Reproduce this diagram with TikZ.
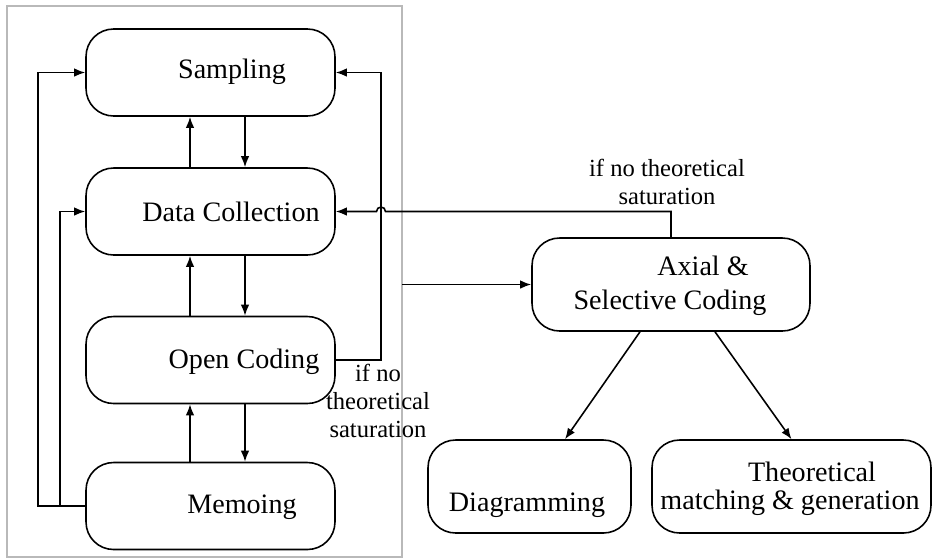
\documentclass[tikz,border=0pt]{standalone}
\usepackage{fontspec}
\setmainfont{Liberation Serif}
\usetikzlibrary{arrows.meta}

\begin{document}
\begin{tikzpicture}[x=0.02cm,y=-0.02cm]
  \tikzset{
    box/.style={draw,fill=white,line width=0.9pt,rounded corners=0.55cm,
      minimum width=4.98cm,minimum height=1.74cm},
    txt/.style={font=\fontsize{16}{19}\selectfont,inner sep=0pt},
    note/.style={font=\fontsize{14}{16}\selectfont,align=center,inner sep=0pt},
    arr/.style={line width=0.9pt,-{Latex[length=0.22cm,width=0.17cm]}}
  }
  \useasboundingbox (0,0) rectangle (932,559);
  \draw[gray!55,line width=0.7pt] (7,6) rectangle (402,557);

  % left column
  \node[box] (samp) at (210.5, 72.5) {};
  \node[box] (coll) at (210.5,211.5) {};
  \node[box] (open) at (210.5,360)   {};
  \node[box] (memo) at (210.5,506)   {};
  \node[txt] (samp-t) at (232, 72) {Sampling};
  \node[txt] (coll-t) at (231,212) {Data Collection};
  \node[txt] (open-t) at (244,362) {Open Coding};
  \node[txt] (memo-t) at (242,507) {Memoing};

  % right part
  \node[box,minimum width=5.56cm,minimum height=1.86cm] (axial) at (671,284.5) {};
  \node[box,minimum width=4.06cm,minimum height=1.86cm] (diag)  at (529.5,486.5) {};
  \node[box,minimum width=5.58cm,minimum height=1.86cm] (theo)  at (791.5,486.5) {};
  \node[txt] (axial-t1) at (703,266) {Axial \&};
  \node[txt] (axial-t2) at (670,303) {Selective Coding};
  \node[txt] (diag-t)   at (527,505) {Diagramming};
  \node[txt] (theo-t1)  at (812,472) {Theoretical};
  \node[txt] (theo-t2)  at (790,503) {matching \& generation};

  \coordinate (up) at (190,0);
  \coordinate (dn) at (245,0);
  \coordinate (lo) at (38,0);
  \coordinate (li) at (60,0);
  \coordinate (ro) at (381,0);
  \coordinate (fe) at (402,0);

  % up and down between the boxes
  \draw[arr] (coll.north -| up) -- (samp.south -| up);
  \draw[arr] (samp.south -| dn) -- (coll.north -| dn);
  \draw[arr] (open.north -| up) -- (coll.south -| up);
  \draw[arr] (coll.south -| dn) -- (open.north -| dn);
  \draw[arr] (memo.north -| up) -- (open.south -| up);
  \draw[arr] (open.south -| dn) -- (memo.north -| dn);

  % loops back
  \draw[arr] (memo.west) -- (memo.west -| lo) -- (samp.west -| lo) -- (samp.west);
  \draw[arr] (memo.west) -- (memo.west -| li) -- (coll.west -| li) -- (coll.west);
  \draw[arr] (open.east) -- (open.east -| ro) -- (samp.east -| ro) -- (samp.east);
  \node[note] (sat-l) at (378,401) {if no\\theoretical\\saturation};

  \draw[arr] (axial.north) -- (axial.north |- coll.east) -- ([xshift=0.09cm]coll.east -| ro)
    arc[start angle=0,end angle=180,radius=0.09cm] -- (coll.east);
  \node[note] (sat-r) at (667,182) {if no theoretical\\saturation};

  \draw[arr] (axial.west -| fe) -- (axial.west);
  \draw[arr] ([xshift=-0.62cm]axial.south) -- ([xshift=0.71cm]diag.north);
  \draw[arr] ([xshift=0.88cm]axial.south) -- (theo.north);
\end{tikzpicture}
\end{document}
